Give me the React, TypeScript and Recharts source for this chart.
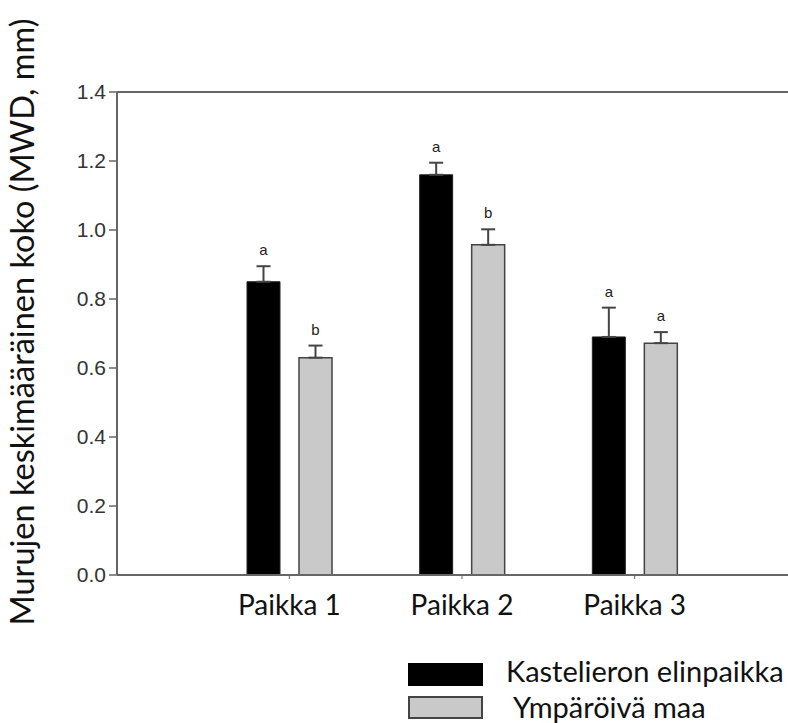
import { BarChart, Bar, XAxis, YAxis, ErrorBar, LabelList, ReferenceLine } from "recharts";

const categories = ["Paikka 1", "Paikka 2", "Paikka 3"];
const habitatValues = [0.85, 1.16, 0.69];
const habitatErrors = [0.045, 0.035, 0.085];
const surroundValues = [0.63, 0.957, 0.672];
const surroundErrors = [0.035, 0.045, 0.032];
const habitatLetters = ["a", "a", "a"];
const surroundLetters = ["b", "b", "a"];
const yTicks = [0, 0.2, 0.4, 0.6, 0.8, 1.0, 1.2, 1.4];

const seriesNames = ["Kastelieron elinpaikka", "Ympäröivä maa"];
const BLACK = "#000000";
const GREY = "#c9c9c9";

const data = categories.map((name, i) => ({
  name,
  habitat: habitatValues[i],
  habitatErr: [0, habitatErrors[i]],
  surround: surroundValues[i],
  surroundErr: [0, surroundErrors[i]],
}));

// kirjain virhepalkin yläpuolelle
function letterLabel(letters: string[], values: number[], errors: number[]) {
  return (props: any) => {
    const { x, y, width, height, index } = props;
    const pxPerUnit = height / values[index];
    const errTop = y - errors[index] * pxPerUnit;
    return (
      <text
        x={x + width / 2}
        y={errTop - 11}
        textAnchor="middle"
        fontFamily="Liberation Sans, Arial, sans-serif"
        fontSize={15}
        fill="#222"
      >
        {letters[index]}
      </text>
    );
  };
}

function YLabel() {
  return (
    <text
      x={21}
      y={322}
      transform="rotate(-90 21 322)"
      textAnchor="middle"
      dominantBaseline="central"
      fontFamily="Lato, sans-serif"
      fontSize={32.5}
      fill="#111"
    >
      Murujen keskimääräinen koko (MWD, mm)
    </text>
  );
}

export default function App() {
  return (
    <div
      style={{
        position: "absolute",
        left: 0,
        top: 0,
        width: 788,
        height: 723,
        overflow: "hidden",
        background: "#fff",
      }}
    >
      <BarChart
        width={788}
        height={723}
        data={data}
        margin={{ top: 92, right: 0, left: 0, bottom: 100 }}
        barGap={19}
      >
        <XAxis
          dataKey="name"
          padding={{ left: 86, right: 67 }}
          axisLine={{ stroke: "#666", strokeWidth: 2 }}
          tickLine={{ stroke: "#666" }}
          tickSize={4}
          tickMargin={16}
          height={48}
          tick={{ fontFamily: "Lato, sans-serif", fontSize: 28, fill: "#111" }}
        />
        <YAxis
          width={117}
          domain={[0, 1.4]}
          ticks={yTicks}
          tickFormatter={(v: number) => v.toFixed(1)}
          axisLine={{ stroke: "#666", strokeWidth: 2 }}
          tickLine={{ stroke: "#666", strokeWidth: 1.5 }}
          tickSize={8}
          tickMargin={3}
          tick={{ fontFamily: "Liberation Sans, Arial, sans-serif", fontSize: 21, fill: "#333" }}
          label={<YLabel />}
        />
        <ReferenceLine y={1.4} stroke="#666" strokeWidth={2} />
        <Bar dataKey="habitat" name={seriesNames[0]} fill={BLACK} stroke="#222" barSize={33} isAnimationActive={false}>
          <ErrorBar dataKey="habitatErr" width={7} stroke="#444" strokeWidth={2} direction="y" />
          <LabelList dataKey="habitat" content={letterLabel(habitatLetters, habitatValues, habitatErrors)} />
        </Bar>
        <Bar dataKey="surround" name={seriesNames[1]} fill={GREY} stroke="#444" strokeWidth={1.5} barSize={33} isAnimationActive={false}>
          <ErrorBar dataKey="surroundErr" width={7} stroke="#444" strokeWidth={2} direction="y" />
          <LabelList dataKey="surround" content={letterLabel(surroundLetters, surroundValues, surroundErrors)} />
        </Bar>
      </BarChart>
      {/* selite */}
      {seriesNames.map((name, i) => (
        <div key={name} style={{ position: "absolute", left: 408, top: i === 0 ? 662 : 695, height: 24, display: "flex", alignItems: "center" }}>
          <span
            style={{
              width: 75,
              height: 23,
              boxSizing: "border-box",
              background: i === 0 ? BLACK : GREY,
              border: i === 0 ? "1px solid #000" : "2px solid #444",
            }}
          />
          <span
            style={{
              marginLeft: i === 0 ? 23 : 30,
              fontFamily: "Lato, sans-serif",
              fontSize: 29,
              color: "#111",
              lineHeight: "24px",
              position: "relative",
              top: i === 0 ? -3 : 0,
              whiteSpace: "nowrap",
            }}
          >
            {name}
          </span>
        </div>
      ))}
    </div>
  );
}
